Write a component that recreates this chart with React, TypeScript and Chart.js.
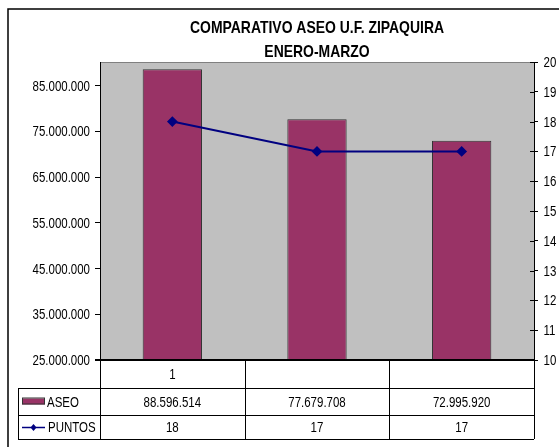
import React, { useEffect, useRef } from "react";
import { Chart, registerables } from "chart.js";

Chart.register(...registerables);

const titleLines = ["COMPARATIVO ASEO U.F. ZIPAQUIRA", "ENERO-MARZO"];
const categories = ["1", "", ""];
const seriesNames = ["ASEO", "PUNTOS"];
const aseo = [88596514, 77679708, 72995920];
const puntos = [18, 17, 17];
const leftTicks = [25000000, 35000000, 45000000, 55000000, 65000000, 75000000, 85000000];
const rightTicks = [10, 11, 12, 13, 14, 15, 16, 17, 18, 19, 20];
const leftMin = 25000000;
const leftMax = 90200000;
const rightMin = 10;
const rightMax = 20;

const FONT = "'Liberation Sans', Arial, sans-serif";
const NARROW = 0.82;
const BAR_COLOR = "#993366";
const LINE_COLOR = "#000080";

const fmt = (n: number) => Math.round(n).toString().replace(/\B(?=(\d{3})+(?!\d))/g, ".");

function narrowText(ctx: CanvasRenderingContext2D, text: string, x: number, y: number, align: CanvasTextAlign, font: string) {
  ctx.save();
  ctx.font = font;
  ctx.fillStyle = "#000";
  ctx.textAlign = align;
  ctx.textBaseline = "alphabetic";
  ctx.translate(x, y);
  ctx.scale(NARROW, 1);
  ctx.fillText(text, 0, 0);
  ctx.restore();
}

const excelPlugin = {
  id: "excelLook",
  beforeDraw(chart: any) {
    const { ctx, chartArea: a } = chart;
    ctx.save();
    ctx.fillStyle = "#ffffff";
    ctx.fillRect(0, 0, chart.width, chart.height);
    ctx.fillStyle = "#C0C0C0";
    ctx.fillRect(a.left, a.top, a.right - a.left, a.bottom - a.top);
    ctx.strokeStyle = "#808080";
    ctx.lineWidth = 1;
    ctx.beginPath();
    ctx.moveTo(a.left, a.top + 0.5);
    ctx.lineTo(a.right, a.top + 0.5);
    ctx.stroke();
    // outer frame
    ctx.strokeStyle = "#000";
    ctx.lineWidth = 1.5;
    ctx.beginPath();
    ctx.moveTo(8, chart.height);
    ctx.lineTo(8, 9);
    ctx.lineTo(chart.width, 9);
    ctx.stroke();
    ctx.restore();
    // title
    const cx = (a.left + a.right) / 2;
    narrowText(ctx, titleLines[0], cx, 32.5, "center", `bold 17px ${FONT}`);
    narrowText(ctx, titleLines[1], cx, 56.5, "center", `bold 17px ${FONT}`);
  },
  afterDraw(chart: any) {
    const { ctx, chartArea: a } = chart;
    const x = chart.scales.x;
    const y = chart.scales.y;
    const y1 = chart.scales.y1;
    ctx.save();
    // axis tick labels
    for (const t of y.ticks) {
      const py = y.getPixelForValue(t.value);
      narrowText(ctx, fmt(t.value), a.left - 10, py + 5, "right", `14px ${FONT}`);
    }
    for (const t of y1.ticks) {
      const py = y1.getPixelForValue(t.value);
      narrowText(ctx, String(t.value), a.right + 9.5, py + 5, "left", `14px ${FONT}`);
    }
    // inner part of right-axis ticks
    ctx.strokeStyle = "#000";
    ctx.lineWidth = 1;
    for (const t of y1.ticks) {
      const py = Math.round(y1.getPixelForValue(t.value)) + 0.5;
      ctx.beginPath();
      ctx.moveTo(a.right - 4, py);
      ctx.lineTo(a.right, py);
      ctx.stroke();
    }
    // data table
    const rowH = [28, 27, 24];
    const top = a.bottom;
    const r1 = top + rowH[0];
    const r2 = r1 + rowH[1];
    const r3 = r2 + rowH[2];
    const keyLeft = 18;
    const half = (x.getPixelForValue(1) - x.getPixelForValue(0)) / 2;
    const bounds: number[] = [];
    for (let i = 0; i < categories.length; i++) bounds.push(x.getPixelForValue(i) - half);
    bounds.push(x.getPixelForValue(categories.length - 1) + half);

    ctx.strokeStyle = "#000";
    ctx.lineWidth = 2;
    ctx.beginPath();
    ctx.moveTo(a.left - 5, top);
    ctx.lineTo(a.right, top);
    ctx.stroke();
    ctx.lineWidth = 1;
    ctx.beginPath();
    for (const yy of [r1, r2, r3]) {
      ctx.moveTo(keyLeft, Math.round(yy) + 0.5);
      ctx.lineTo(a.right, Math.round(yy) + 0.5);
    }
    for (const bx of bounds) {
      ctx.moveTo(Math.round(bx) + 0.5, top);
      ctx.lineTo(Math.round(bx) + 0.5, r3);
    }
    ctx.moveTo(keyLeft + 0.5, r1);
    ctx.lineTo(keyLeft + 0.5, r3);
    ctx.stroke();

    const c1 = (top + r1) / 2 + 5;
    const c2 = (r1 + r2) / 2 + 5;
    const c3 = (r2 + r3) / 2 + 5;
    for (let i = 0; i < categories.length; i++) {
      const px = x.getPixelForValue(i);
      narrowText(ctx, categories[i], px, c1, "center", `14px ${FONT}`);
      narrowText(ctx, fmt(aseo[i]), px, c2, "center", `14px ${FONT}`);
      narrowText(ctx, String(puntos[i]), px, c3, "center", `14px ${FONT}`);
    }
    // legend keys
    const m2 = (r1 + r2) / 2;
    const m3 = (r2 + r3) / 2;
    ctx.fillStyle = BAR_COLOR;
    ctx.fillRect(22, m2 - 3, 23, 6);
    ctx.strokeStyle = "#333";
    ctx.strokeRect(22.5, m2 - 3.5, 22, 6);
    ctx.strokeStyle = LINE_COLOR;
    ctx.lineWidth = 1.5;
    ctx.beginPath();
    ctx.moveTo(22, m3 + 0.5);
    ctx.lineTo(45, m3 + 0.5);
    ctx.stroke();
    ctx.fillStyle = LINE_COLOR;
    ctx.beginPath();
    ctx.moveTo(33.5, m3 - 3);
    ctx.lineTo(36.5, m3 + 0.5);
    ctx.lineTo(33.5, m3 + 4);
    ctx.lineTo(30.5, m3 + 0.5);
    ctx.closePath();
    ctx.fill();
    ctx.restore();
    narrowText(ctx, seriesNames[0], 47, c2, "left", `14px ${FONT}`);
    narrowText(ctx, seriesNames[1], 48, c3, "left", `14px ${FONT}`);
  },
};

export default function App() {
  const ref = useRef<HTMLCanvasElement | null>(null);
  useEffect(() => {
    if (!ref.current) return;
    const chart = new Chart(ref.current, {
      type: "bar",
      data: {
        labels: categories,
        datasets: [
          {
            type: "line",
            label: seriesNames[1],
            data: puntos,
            yAxisID: "y1",
            borderColor: LINE_COLOR,
            backgroundColor: LINE_COLOR,
            borderWidth: 2,
            pointStyle: "rectRot",
            pointRadius: 4,
            pointBackgroundColor: LINE_COLOR,
            pointBorderColor: LINE_COLOR,
            tension: 0,
            fill: false,
            order: 0,
          } as any,
          {
            type: "bar",
            label: seriesNames[0],
            data: aseo,
            yAxisID: "y",
            backgroundColor: BAR_COLOR,
            borderColor: "#333333",
            borderWidth: 1,
            barPercentage: 0.41,
            categoryPercentage: 1,
            order: 1,
          } as any,
        ],
      },
      options: {
        responsive: false,
        maintainAspectRatio: false,
        animation: false,
        layout: { padding: { top: 62, bottom: 87, left: 0, right: 0 } },
        plugins: {
          legend: { display: false },
          title: { display: false },
          tooltip: { enabled: false },
        },
        scales: {
          x: { type: "category", display: false, offset: true },
          y: {
            position: "left",
            min: leftMin,
            max: leftMax,
            afterFit: (s: any) => {
              s.width = 100;
            },
            afterBuildTicks: (s: any) => {
              s.ticks = leftTicks.map((v) => ({ value: v }));
            },
            grid: { drawOnChartArea: false, drawTicks: true, tickLength: 5, color: "#000" },
            border: { display: true, color: "#000", width: 1 },
            ticks: { display: false, autoSkip: false },
          },
          y1: {
            position: "right",
            min: rightMin,
            max: rightMax,
            afterFit: (s: any) => {
              s.width = 25;
            },
            afterBuildTicks: (s: any) => {
              s.ticks = rightTicks.map((v) => ({ value: v }));
            },
            grid: { drawOnChartArea: false, drawTicks: true, tickLength: 4, color: "#000" },
            border: { display: true, color: "#000", width: 1 },
            ticks: { display: false, autoSkip: false },
          },
        } as any,
      },
      plugins: [excelPlugin],
    });
    return () => chart.destroy();
  }, []);
  return (
    <div style={{ position: "absolute", left: 0, top: 0 }}>
      <canvas ref={ref} width={559} height={447} style={{ display: "block", width: 559, height: 447 }} />
    </div>
  );
}
